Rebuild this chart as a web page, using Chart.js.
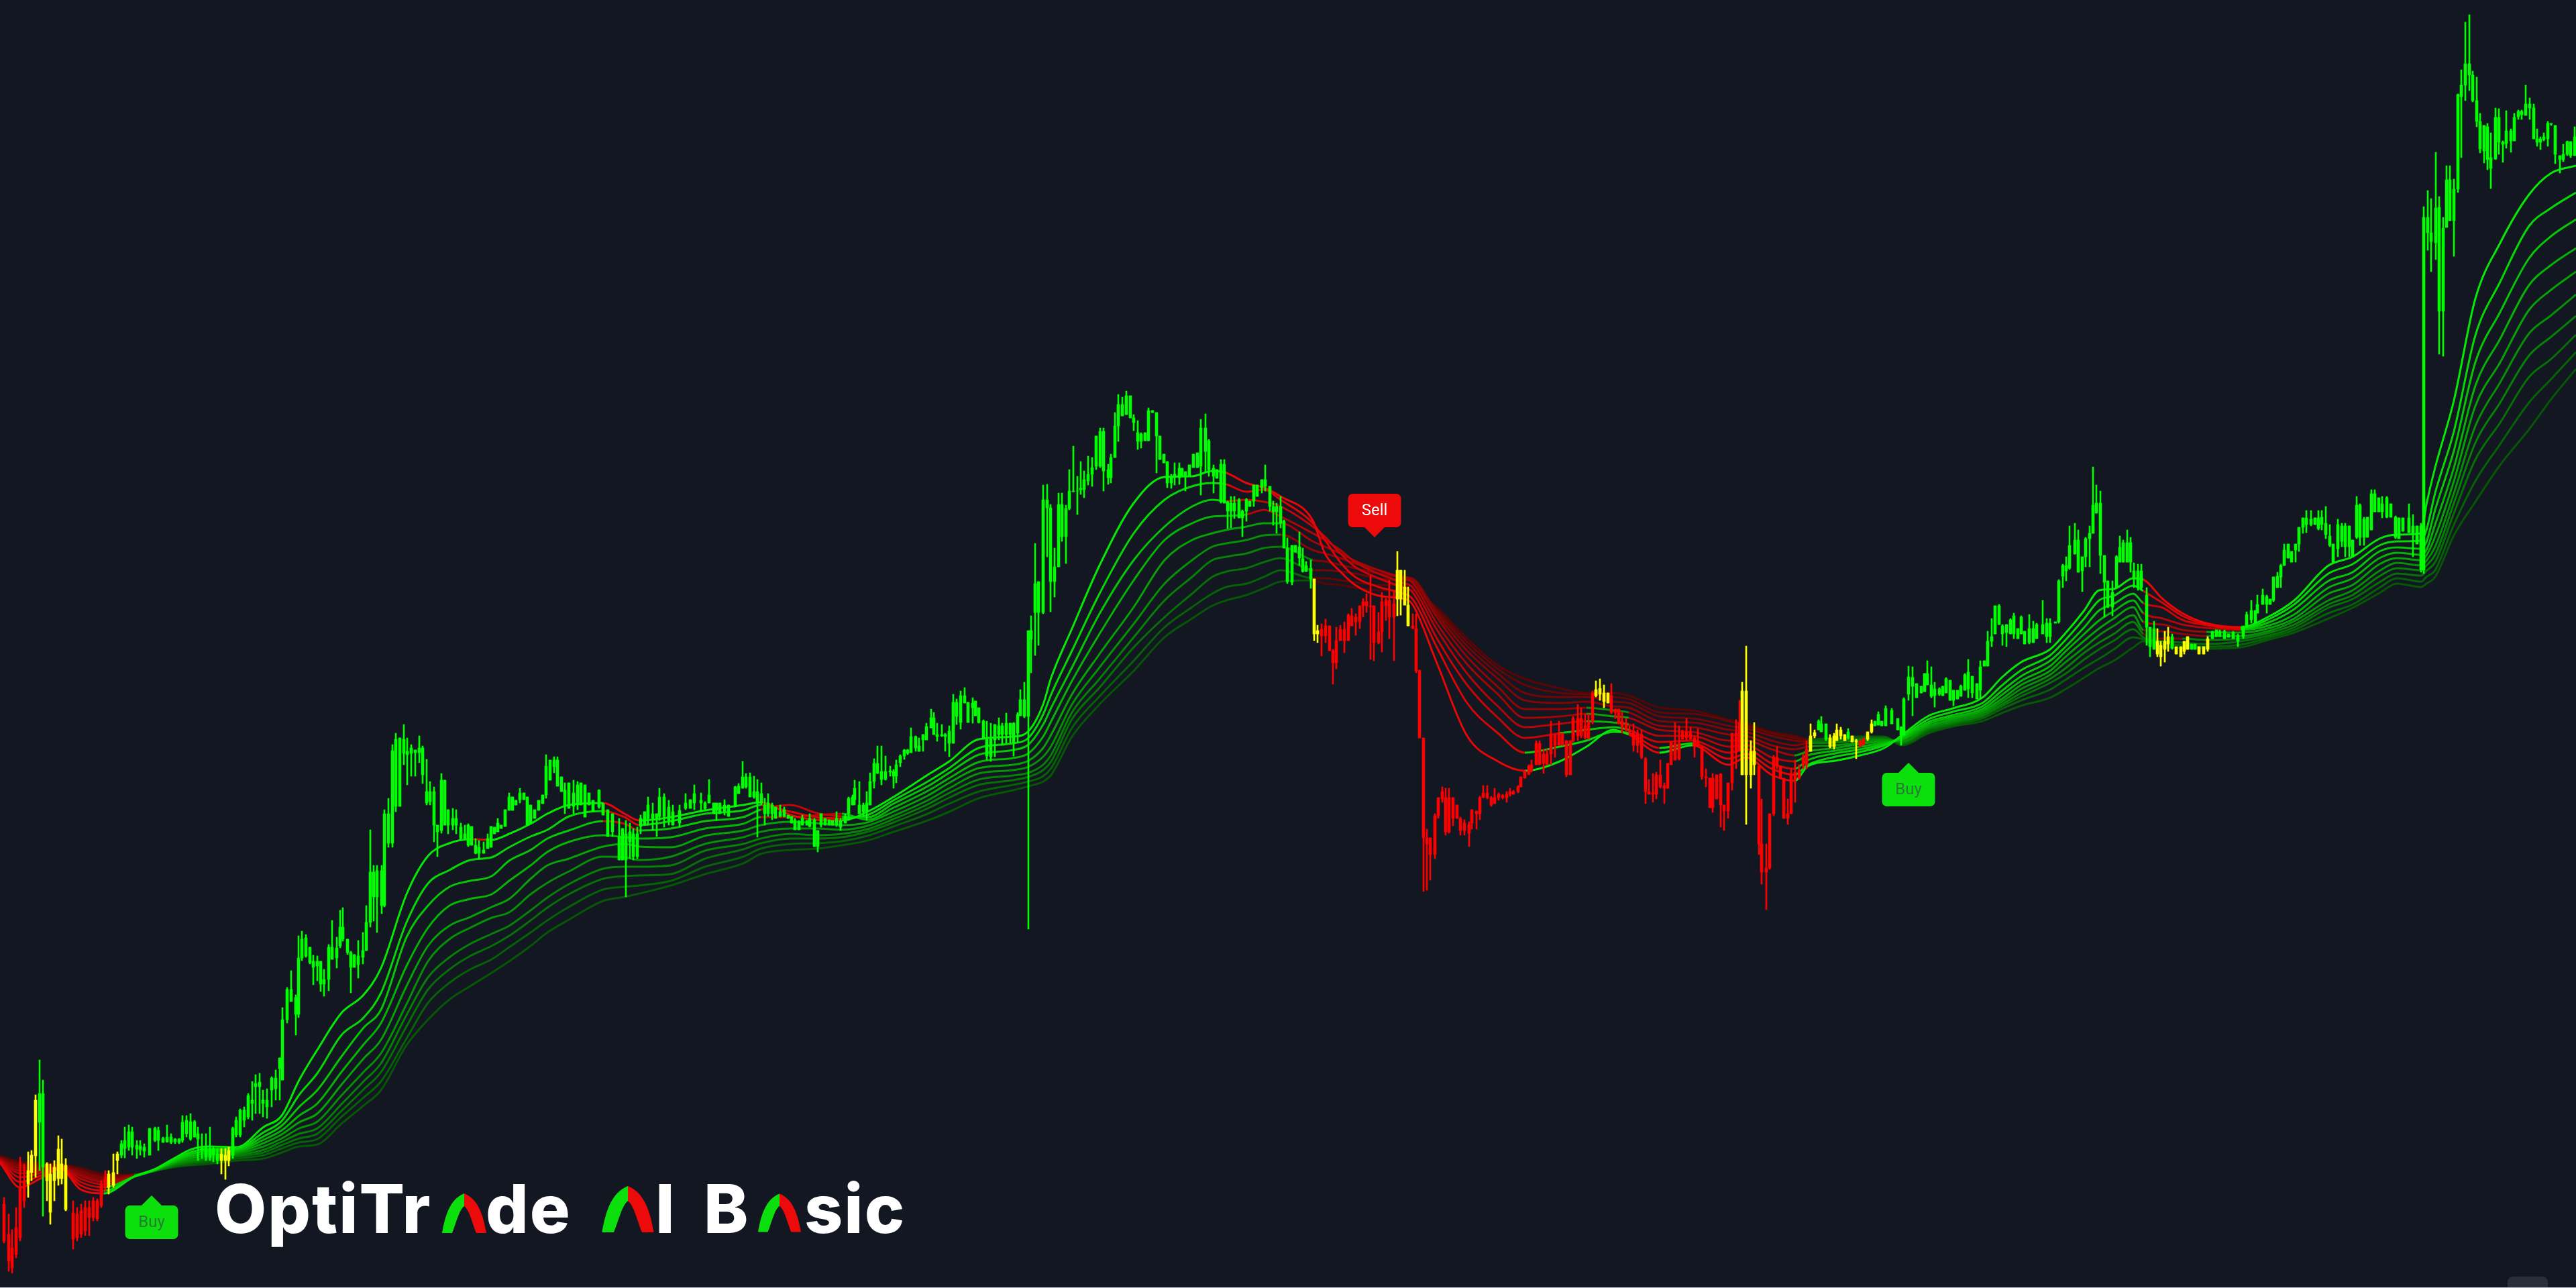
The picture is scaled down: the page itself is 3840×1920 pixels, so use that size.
<!DOCTYPE html>
<html>
<head>
<meta charset="utf-8">
<title>OptiTrade AI Basic</title>
<script src="https://cdn.jsdelivr.net/npm/chart.js@4/dist/chart.umd.min.js"></script>
<style>
  html, body { margin: 0; padding: 0; background: #121722; overflow: hidden; }
  #wrap { position: relative; width: 3840px; height: 1920px; }
  #chart { position: absolute; left: 0; top: 0; }
  .logo { position: absolute; top: 1752px; font: 800 100px/100px Inter, sans-serif; color: #fff; letter-spacing: 2px; white-space: pre; }
  .ghost { color: transparent; }
  .arch { position: absolute; }
  #edge { position: absolute; left: 0; right: 0; bottom: 0; height: 1px; background: #c4c6cb; }
  #corner { position: absolute; left: 3738px; top: 1903px; width: 60px; height: 17px; background: #2a2e39; border-radius: 8px 8px 0 0; }
</style>
</head>
<body>
<div id="wrap">
  <canvas id="chart" width="3840" height="1920"></canvas>
  <div id="brand"><span class="logo" style="left:320px">OptiTr</span><span class="logo ghost" style="left:665px;font-size:80px;top:1770px">a</span><span class="logo" style="left:724px">de</span> <span class="logo ghost" style="left:905px">A</span><span class="logo" style="left:977px">I</span> <span class="logo" style="left:1049px">B</span><span class="logo ghost" style="left:1135px;font-size:80px;top:1770px">a</span><span class="logo" style="left:1199px">sic</span></div>
  <svg class="arch" style="left:659px;top:1779px" width="66" height="59" viewBox="0 0 66 59"><path fill="#0ce00c" d="M0 59C5 30 13 8 33 0L33 19C25 25 21 45 15 59Z"/><path fill="#ec0a0a" d="M66 59C61 30 53 8 33 0L33 19C41 25 45 45 51 59Z"/></svg>
  <svg class="arch" style="left:897px;top:1768px" width="78" height="69" viewBox="0 0 66 59"><path fill="#0ce00c" d="M0 59C5 30 13 8 33 0L33 19C25 25 21 45 15 59Z"/><path fill="#ec0a0a" d="M66 59C61 30 53 8 33 0L33 19C41 25 45 45 51 59Z"/></svg>
  <svg class="arch" style="left:1130px;top:1779px" width="64" height="58" viewBox="0 0 66 59"><path fill="#0ce00c" d="M0 59C5 30 13 8 33 0L33 19C25 25 21 45 15 59Z"/><path fill="#ec0a0a" d="M66 59C61 30 53 8 33 0L33 19C41 25 45 45 51 59Z"/></svg>
  <div id="corner"></div>
  <div id="edge"></div>
</div>
<script>
// candles: time, high, body top, body bottom, low
const barsFirstRally = [
[6,135,125,70,67],[13,110,80,40,25],[18,87,60,30,22],[24,120,90,50,45],[30,195,150,75,70],[36,185,160,130,120],[42,203,175,155,135],[47,205,198,172,160],[53,288,280,197,165],[59,340,290,247,175],[64,310,290,180,107],[70,187,185,160,130],[75,185,170,113,95],[81,190,180,160,130],[87,227,207,163,153],[92,222,185,163,155],[98,193,183,117,115],[109,130,112,73,58],[115,120,110,75,70],[121,125,115,80,75],[127,130,120,85,78],[133,130,120,105,78],[139,135,130,105,100],[145,133,130,103,100],[151,160,155,123,120],[157,175,165,150,145],[162,175,170,150,140],[169,200,172,153,150],[175,203,200,190,170],[181,220,215,198,194],[186,240,220,208,194],[192,243,233,210,205],[197,240,233,210,198],[204,220,213,207,193],[209,220,212,206,198],[215,215,210,204,195],[223,238,238,198,198],[231,240,238,220,218],[236,240,235,220,205],[243,225,223,217,217],[249,243,225,218,217],[255,230,225,217,215],[261,223,222,218,215],[267,223,222,217,215],[272,257,247,220,217],[278,257,250,230,225],[284,260,248,222,220],[290,250,248,225,225],[295,240,230,222,190],[301,230,210,205,193],[307,230,210,195,190],[313,240,208,195,190],[318,210,208,198,188],[324,208,200,190,185],[330,208,200,190,170],[336,208,198,190,162],[341,210,205,190,182],[347,240,238,198,193],[352,255,250,228,225],[358,267,265,228,225],[364,270,265,250,240],[370,290,287,255,252],[376,308,280,275,250],[381,318,305,300,260],[387,320,307,300,260],[392,295,280,275,255],[398,297,280,270,253],[405,315,313,295,270],[411,325,313,297,280],[417,343,343,327,280],[421,418,400,310,310],[428,448,445,400,395],[434,473,445,427,427],[441,437,433,408,377],[445,525,492,408,403],[450,532,520,492,488],[456,527,522,495,493],[462,508,508,485,483],[467,496,487,478,452],[473,495,487,480,458],[478,487,487,453,442],[483,475,460,453,435],[490,512,508,460,443],[495,548,508,490,490],[502,523,507,492,477],[507,563,538,510,507],[511,567,538,520,517],[518,520,520,500,497],[523,502,500,478,440],[528,497,497,478,478],[534,518,495,482,462],[541,530,503,493,483],[546,570,545,503,503],[552,683,620,545,538],[557,630,620,583,547],[562,630,622,583,530],[569,630,622,570,558],[573,713,707,570,568],[579,730,707,663,657],[585,810,801,663,657],[590,827,818,718,710],[596,820,820,718,718]];
const barsFirstTop = [
[602,840,818,797,780],[607,820,800,795,750],[613,810,805,797,763],[619,802,802,798,763],[625,823,805,798,783],[630,808,805,765,752],[636,788,740,723,720],[641,755,740,725,720],[647,747,740,690,665],[652,690,690,680,643],[658,767,757,682,678],[663,757,757,690,690],[668,713,713,690,677],[675,715,700,690,683],[680,713,700,690,677],[687,693,687,670,667],[693,690,677,670,668],[698,692,690,660,658],[703,688,688,660,660],[709,670,660,648,647],[714,667,657,648,640],[721,665,653,648,648],[727,677,670,655,655],[732,688,688,657,657],[737,687,687,677,677],[742,700,693,680,680],[747,690,690,685,685],[753,713,713,688,688],[759,738,732,712,712],[764,732,732,712,712],[769,727,727,720,720],[775,745,738,728,723],[781,738,738,728,728],[786,732,732,690,690],[791,720,720,693,693],[797,713,713,700,700],[803,727,727,712,712],[809,735,735,722,722],[814,795,778,735,730],[820,787,787,757,757],[826,792,787,777,768],[831,792,787,748,748],[837,762,762,740,740],[842,753,742,718,707],[848,753,753,715,715],[855,757,738,718,707],[861,755,750,720,713],[866,753,753,720,720],[872,750,750,702,702],[878,738,738,720,720],[884,727,727,710,710],[893,743,742,717,715],[899,723,722,705,705],[906,713,713,673,673],[913,707,707,680,673],[923,700,673,638,638],[928,685,685,638,638],[933,697,677,638,583],[939,693,680,665,640],[944,685,677,643,638],[950,687,677,643,640],[955,705,700,688,677],[961,710,710,690,690],[966,732,720,700,690],[973,723,707,700,683],[979,707,707,700,673],[983,745,732,703,697],[990,737,732,703,687],[997,727,717,697,690]];
const barsSideways = [
[1003,720,710,690,690],[1013,720,712,693,687],[1022,737,723,715,713],[1029,728,728,715,715],[1035,750,737,723,713],[1045,738,727,723,710],[1051,725,723,715,712],[1057,758,735,723,723],[1064,723,723,707,707],[1068,723,723,712,697],[1073,723,723,707,707],[1080,728,720,710,705],[1086,720,720,703,703],[1096,748,747,718,717],[1101,752,748,737,737],[1107,785,762,745,745],[1112,767,762,747,745],[1118,768,762,732,732],[1124,763,740,732,730],[1129,758,740,723,672],[1135,753,737,723,720],[1140,730,720,707,690],[1145,737,723,707,703],[1151,723,720,707,698],[1156,717,717,700,700],[1163,720,710,703,702],[1169,717,713,703,702],[1175,705,705,700,700],[1180,703,703,693,693],[1185,700,697,683,683],[1191,697,695,683,683],[1196,705,700,690,690],[1203,697,697,690,690],[1207,707,700,688,687],[1214,700,698,658,658],[1219,682,682,658,650],[1224,707,707,690,687],[1230,700,700,690,690],[1236,698,698,690,690],[1241,697,697,690,690],[1247,710,700,690,688],[1253,700,697,687,682],[1260,707,703,693,693],[1265,732,730,707,697],[1271,735,732,720,720],[1274,757,745,728,720],[1281,755,720,707,707],[1287,723,720,710,703],[1292,740,723,710,697],[1297,768,755,720,720],[1303,789,782,755,745],[1308,808,782,767,767],[1314,808,770,758,750],[1320,793,770,758,757],[1327,778,771,769,763],[1332,773,770,763,745],[1336,787,780,763,753],[1342,795,793,783,777],[1348,803,802,793,788],[1353,803,802,797,795],[1358,835,822,798,798],[1365,823,822,805,800],[1370,820,808,800,800],[1376,825,825,817,800],[1381,842,837,817,817],[1388,863,850,835,835],[1392,858,850,825,825],[1397,842,825,822,815],[1404,840,825,823,822],[1409,827,825,822,800],[1415,838,830,812,792],[1421,885,873,812,812],[1426,878,873,852,840],[1432,890,883,843,833],[1438,895,883,872,872],[1443,873,873,843,843],[1450,880,872,865,842],[1454,875,875,853,853],[1459,865,865,843,842],[1466,847,845,818,818],[1471,845,818,793,787],[1477,842,818,792,785],[1483,840,840,817,792],[1489,850,838,825,817],[1494,842,838,825,810],[1500,857,842,825,812],[1506,842,842,825,812],[1511,843,842,813,793],[1517,858,855,827,813],[1521,892,877,853,853],[1527,903,877,852,850]];
const barsSecondRally = [
[1533,980,980,852,535],[1537,1002,980,967,917],[1543,1110,1050,1007,943],[1548,1053,1053,1007,958],[1555,1197,1175,1007,1005],[1561,1198,1175,1163,1090],[1566,1168,1163,1053,1008],[1572,1103,1075,1053,1030],[1578,1185,1168,1075,1075],[1583,1185,1168,1120,1113],[1589,1167,1162,1120,1080],[1594,1220,1188,1162,1160],[1600,1255,1188,1187,1187],[1606,1210,1188,1188,1153],[1611,1232,1192,1190,1183],[1616,1218,1205,1190,1178],[1622,1240,1213,1203,1197],[1628,1238,1223,1213,1195],[1634,1270,1270,1225,1220],[1640,1282,1277,1225,1223],[1645,1282,1277,1218,1188],[1652,1228,1220,1208,1198],[1656,1243,1238,1208,1200],[1662,1305,1285,1238,1238],[1667,1332,1317,1285,1262],[1673,1328,1317,1300,1300],[1679,1337,1330,1302,1302],[1685,1330,1330,1297,1297],[1690,1302,1297,1290,1278],[1696,1293,1275,1262,1250],[1701,1275,1273,1262,1252],[1707,1275,1275,1263,1263],[1712,1312,1308,1263,1263],[1718,1308,1308,1305,1305],[1724,1305,1305,1270,1215],[1729,1270,1270,1235,1235],[1735,1243,1243,1230,1230],[1740,1232,1232,1200,1193],[1746,1213,1208,1200,1192],[1751,1230,1213,1208,1197],[1758,1230,1222,1208,1198],[1762,1222,1222,1210,1210],[1767,1217,1217,1210,1188],[1773,1227,1227,1210,1210],[1779,1243,1243,1223,1223],[1785,1245,1245,1223,1223],[1790,1295,1282,1225,1182],[1797,1303,1282,1247,1217],[1802,1265,1263,1220,1210],[1809,1227,1222,1210,1185],[1814,1220,1220,1207,1207],[1820,1235,1228,1172,1170],[1825,1235,1228,1170,1170],[1830,1173,1172,1158,1132],[1835,1180,1170,1158,1133],[1840,1180,1170,1158,1147],[1847,1177,1175,1148,1148],[1852,1160,1158,1148,1120],[1858,1177,1175,1158,1143],[1863,1173,1173,1165,1165],[1869,1197,1197,1173,1165],[1874,1197,1197,1180,1180],[1881,1205,1205,1193,1185],[1886,1227,1205,1195,1188],[1893,1195,1195,1165,1158],[1898,1173,1165,1157,1137],[1903,1170,1165,1157,1125],[1909,1180,1165,1140,1133],[1914,1145,1143,1103,1103],[1919,1118,1103,1053,1050],[1926,1107,1107,1052,1048],[1931,1107,1107,1097,1097],[1937,1127,1105,1088,1077],[1942,1103,1087,1068,1067],[1947,1083,1077,1068,1068],[1954,1085,1073,1057,1043],[1959,1057,1057,975,965],[1964,988,980,975,962]];
const barsSellOff = [
[1970,990,982,972,942],[1976,997,987,972,962],[1982,987,987,950,950],[1987,952,950,932,900],[1992,985,965,932,923],[1998,988,982,965,965],[2004,993,982,965,947],[2010,1005,1003,965,965],[2015,1013,1002,987,987],[2021,1005,1000,993,973],[2027,1017,1017,993,983],[2032,1028,1023,1017,1000],[2037,1035,1023,1017,1007],[2043,1062,1017,1015,937],[2048,1017,1017,962,935],[2055,1007,978,962,960],[2060,1037,1023,978,948],[2066,1028,1025,1017,995],[2071,1055,1025,1000,968],[2078,1040,1020,1000,935],[2083,1098,1070,1027,1002],[2088,1070,1070,1027,1003],[2094,1070,1045,1018,1018],[2099,1045,1018,987,987],[2106,1005,987,983,983],[2111,1005,983,920,917],[2116,921,921,820,820],[2122,820,820,671,591],[2127,684,671,662,593],[2132,671,671,646,608],[2139,707,704,646,640],[2144,731,731,704,700],[2150,747,740,729,724],[2155,745,731,680,675],[2160,745,731,680,678],[2166,731,731,700,689],[2172,720,720,700,700],[2177,702,700,682,675],[2183,698,693,682,675],[2190,695,691,678,658],[2194,713,713,693,684],[2201,711,711,707,684],[2206,733,731,707,698],[2211,749,738,731,731],[2217,749,738,731,729],[2223,733,731,720,718],[2228,745,731,722,722],[2234,738,736,731,727],[2240,736,734,731,729],[2246,740,736,731,724],[2251,745,740,736,733],[2256,742,740,736,736],[2263,749,747,740,738],[2267,762,762,747,747],[2273,771,771,760,760],[2279,780,778,766,765],[2283,787,780,771,769],[2290,816,812,780,780],[2295,816,812,780,780],[2301,803,796,782,767],[2306,803,796,780,780],[2312,845,825,796,780],[2318,825,825,809,791],[2324,845,827,809,809],[2329,827,827,809,809],[2335,816,816,765,762],[2341,816,816,765,765],[2345,852,849,816,814],[2352,870,849,823,816],[2357,865,849,823,820],[2363,856,838,820,818],[2368,856,843,820,818],[2374,890,887,845,841],[2379,905,892,883,881],[2385,908,894,885,876],[2391,899,887,874,865],[2397,887,887,872,872],[2402,901,883,858,856],[2408,863,863,858,849],[2413,863,863,841,841],[2418,858,845,836,827],[2424,849,843,832,829],[2429,838,832,829,825],[2435,841,829,809,800],[2441,832,827,809,798],[2447,832,825,791,789]];
const barsChop = [
[2453,791,789,740,722],[2458,758,740,736,736],[2464,767,738,736,724],[2469,769,765,736,729],[2475,787,765,747,745],[2481,753,749,745,722],[2486,782,782,745,745],[2491,814,814,780,780],[2497,843,812,787,787],[2503,838,812,789,787],[2508,832,829,818,818],[2514,849,829,820,816],[2520,836,829,818,818],[2526,823,820,807,791],[2531,834,816,807,807],[2537,807,807,762,758],[2543,774,762,760,747],[2549,760,760,716,716],[2553,767,760,716,709],[2559,765,765,729,729],[2565,767,766,720,687],[2570,720,720,711,682],[2576,753,753,711,700],[2582,827,827,753,742],[2588,847,827,798,774],[2593,876,843,800,800],[2597,903,890,765,765],[2603,957,890,765,691],[2610,816,800,765,745],[2615,843,800,780,765],[2622,778,778,662,646],[2626,729,662,620,602],[2633,662,626,620,564],[2638,707,707,626,624],[2644,794,791,707,704],[2649,807,791,778,774],[2654,778,778,760,760],[2659,760,760,700,700],[2665,729,707,700,691],[2670,774,767,707,707],[2676,787,769,758,724],[2682,780,771,760,758],[2688,796,791,780,774],[2693,816,803,780,774],[2699,841,823,800,800],[2705,832,828,823,820],[2711,847,845,832,832],[2715,852,841,829,829],[2722,841,841,818,816],[2728,825,820,807,805],[2734,827,823,807,803],[2738,841,832,816,816],[2744,836,832,823,818],[2750,825,825,816,816],[2755,834,829,820,818],[2761,823,823,814,814],[2767,818,816,814,789],[2773,816,816,807,807],[2778,820,818,811,809],[2784,829,829,818,816],[2790,847,841,829,827],[2795,845,845,838,838]];
const barsThirdRally = [
[2800,859,855,839,839],[2805,845,845,838,838],[2811,868,864,838,838],[2820,864,861,841,841],[2829,849,849,832,832],[2834,837,836,824,809],[2838,880,878,824,824],[2845,927,911,885,876],[2851,926,910,897,853],[2857,901,901,880,880],[2864,897,897,887,887],[2869,916,916,889,889],[2873,935,916,899,899],[2879,926,899,882,880],[2884,903,893,883,866],[2891,895,893,885,883],[2896,897,897,883,883],[2901,910,908,887,887],[2907,906,906,876,876],[2912,891,891,876,868],[2918,891,891,878,878],[2923,899,897,882,882],[2929,916,914,891,891],[2934,937,918,893,880],[2940,912,912,887,880],[2947,901,901,878,878],[2952,935,926,891,878],[2958,935,935,927,927],[2963,979,964,927,927],[2969,998,971,964,956],[2974,1017,1017,975,975],[2980,1019,1017,989,989],[2985,989,987,975,958],[2991,989,989,977,956],[2997,998,996,975,975],[3002,1006,1002,975,968],[3008,983,983,968,968],[3013,1002,1000,975,975],[3018,979,979,960,960],[3025,1004,983,962,960],[3031,994,983,962,962],[3036,991,989,968,968],[3045,1025,989,975,975],[3051,998,991,971,962],[3056,998,991,971,962],[3064,993,993,991,991],[3069,1056,1054,993,991],[3075,1079,1077,1061,1044],[3080,1090,1077,1069,1054],[3085,1136,1107,1073,1071],[3093,1140,1115,1094,1094],[3098,1130,1115,1067,1067],[3104,1090,1090,1069,1038],[3109,1119,1117,1090,1075],[3115,1136,1125,1117,1075],[3120,1224,1167,1125,1125],[3125,1197,1170,1155,1155],[3131,1188,1170,1092,1065],[3137,1092,1092,1052,1000],[3142,1054,1054,1015,1014],[3149,1054,1037,1015,1002],[3155,1092,1090,1044,1044],[3160,1121,1104,1082,1082],[3165,1115,1111,1082,1082],[3171,1130,1111,1082,1082],[3176,1119,1111,1082,1067],[3181,1081,1069,1058,1044],[3187,1079,1069,1044,1040],[3192,1079,1069,1044,1040],[3200,1044,1033,985,958],[3205,985,985,956,941],[3211,994,983,952,952],[3216,983,964,945,941],[3221,964,958,941,927],[3227,979,964,952,933],[3232,985,971,960,949],[3238,975,971,954,952],[3244,956,956,945,945],[3251,956,956,941,941],[3256,964,964,949,945],[3261,971,971,952,952],[3267,960,960,952,952],[3272,960,960,952,952],[3278,956,956,945,945],[3285,956,956,945,945],[3291,971,968,952,949]];
const barsFinal = [
[3298,979,979,968,968],[3304,981,981,971,971],[3309,981,979,971,971],[3316,981,979,968,968],[3322,975,975,970,970],[3329,979,977,968,968],[3336,975,973,964,956],[3344,987,985,971,968],[3349,1008,1004,985,985],[3356,1025,1010,996,991],[3362,1010,1010,991,991],[3365,1033,1019,1006,1006],[3373,1042,1033,1019,1019],[3379,1033,1031,1019,1006],[3384,1027,1027,1019,1019],[3389,1060,1060,1025,1023],[3395,1067,1061,1044,1044],[3400,1079,1077,1060,1044],[3405,1109,1100,1077,1077],[3411,1109,1109,1088,1088],[3416,1098,1098,1082,1082],[3422,1109,1109,1100,1082],[3427,1134,1134,1109,1098],[3433,1148,1148,1134,1125],[3438,1159,1148,1138,1126],[3445,1159,1146,1138,1136],[3451,1148,1148,1138,1138],[3456,1159,1148,1132,1130],[3461,1159,1149,1138,1130],[3467,1165,1140,1123,1117],[3473,1138,1121,1107,1105],[3478,1109,1109,1082,1081],[3485,1146,1138,1102,1090],[3491,1140,1136,1113,1105],[3496,1140,1136,1105,1090],[3502,1136,1136,1105,1090],[3507,1115,1115,1090,1090],[3513,1180,1167,1119,1117],[3518,1169,1167,1119,1107],[3524,1149,1146,1119,1107],[3529,1149,1149,1119,1119],[3535,1190,1184,1130,1130],[3540,1190,1184,1157,1157],[3546,1178,1178,1157,1157],[3551,1180,1169,1157,1148],[3558,1180,1178,1149,1148],[3564,1169,1169,1149,1149],[3571,1151,1149,1119,1117],[3576,1148,1148,1117,1117],[3582,1148,1148,1128,1128],[3591,1169,1148,1126,1126],[3597,1153,1136,1125,1090],[3603,1136,1136,1109,1109],[3609,1140,1136,1071,1067],[3613,1612,1596,1070,1065],[3619,1636,1596,1573,1547],[3624,1624,1573,1560,1515],[3631,1693,1610,1558,1533],[3636,1627,1611,1456,1392],[3642,1596,1580,1456,1389],[3647,1673,1652,1581,1581],[3652,1673,1652,1591,1591],[3658,1653,1638,1591,1538],[3664,1780,1779,1638,1633],[3669,1816,1793,1776,1685],[3675,1887,1825,1793,1770],[3681,1898,1825,1808,1785],[3686,1814,1808,1770,1768],[3692,1805,1770,1739,1731],[3697,1751,1739,1698,1692],[3703,1733,1733,1695,1677],[3708,1736,1731,1682,1667],[3713,1722,1685,1669,1639],[3720,1759,1745,1683,1682],[3725,1758,1745,1708,1690],[3731,1710,1708,1705,1678],[3736,1755,1725,1706,1699],[3743,1728,1725,1710,1693],[3748,1751,1745,1710,1710],[3754,1756,1754,1746,1742],[3759,1756,1754,1749,1742],[3765,1793,1765,1748,1748],[3771,1774,1765,1759,1742],[3777,1765,1759,1713,1713],[3782,1728,1713,1708,1702],[3787,1716,1713,1708,1697],[3792,1722,1716,1712,1710],[3798,1739,1736,1713,1702],[3803,1736,1736,1735,1733],[3809,1733,1733,1690,1676],[3816,1688,1688,1682,1662],[3821,1705,1690,1682,1679],[3827,1710,1709,1690,1688],[3832,1709,1709,1688,1685],[3838,1731,1716,1688,1688]];

// state of the candle up to a given time
const candleRuns = [[40,'down'],[56,'flat'],[66,'up'],[100,'flat'],[158,'down'],[180,'flat'],[328,'up'],[345,'flat'],[1955,'up'],[1966,'flat'],[2080,'down'],[2101,'flat'],[2376,'down'],[2398,'flat'],[2595,'down'],[2617,'flat'],[2695,'down'],[2707,'flat'],[2724,'up'],[2750,'flat'],[2758,'up'],[2770,'flat'],[2780,'down'],[2792,'flat'],[3214,'up'],[3235,'flat'],[3240,'up'],[3265,'flat'],[3275,'up'],[3295,'flat'],[3840,'up']];

// moving average ribbon: time, then the ten averages from fastest to slowest
const ribbonBase = [
[0,187,188,190,191,192,193,194,195,196,197],[30,150,158,165,171,175,179,182,184,186,188],[60,163,167,171,174,177,179,181,183,184,186],[90,178,178,179,179,180,181,182,183,183,184],[120,147,153,158,163,167,170,173,175,177,179],[155,141,145,150,154,158,161,164,166,168,170],[200,166,166,166,166,167,167,168,168,169,169],[232,178,177,177,176,176,176,175,175,175,175],[259,193,191,189,188,186,185,183,182,181,180],[286,207,203,200,197,194,191,189,187,185,183],[312,211,207,204,201,198,195,193,191,188,185],[353,210,208,206,204,202,200,198,196,193,190],[393,240,232,226,221,216,211,206,202,198,193],[420,257,249,242,235,229,223,218,213,208,202]];
const ribbonRise = [
[446,310,288,270,257,247,238,230,223,217,211],[473,355,320,295,275,260,248,238,230,222,214],[509,410,377,345,322,303,287,274,264,255,245],[542,437,403,388,363,342,322,308,296,284,272],[568,477,440,415,395,370,350,335,322,308,295],[606,587,545,523,480,450,423,407,390,372,362],[638,644,603,570,537,510,487,463,445,425,400],[670,663,623,598,570,540,520,493,475,455,430],[701,669,638,607,580,553,537,513,495,475,450],[733,668,642,614,587,568,552,528,510,490,470],[759,677,657,637,607,580,560,540,525,508,487],[791,692,673,653,630,610,587,563,548,530,510],[816,707,683,670,650,630,604,582,567,548,530],[848,720,703,682,665,640,621,602,587,568,549],[899,723,711,696,675,658,643,625,610,594,577],[931,707,702,692,672,662,642,628,614,598,583],[953,697,690,682,670,658,638,628,615,600,588],[1000,702,696,685,672,657,643,630,617,607,600]];
const ribbonDrift = [
[1051,712,707,696,685,674,662,652,640,628,617],[1108,720,712,702,692,682,672,662,654,643,633],[1134,724,720,713,702,690,680,670,663,655,647],[1179,705,710,720,702,695,685,677,670,662,653],[1217,698,702,708,705,693,685,675,670,663,655],[1255,697,700,703,707,690,683,677,672,666,660],[1293,710,705,702,698,694,689,684,680,674,667],[1332,732,727,722,716,710,704,699,694,688,680],[1383,765,755,748,741,734,727,721,715,707,697],[1415,785,775,768,760,753,745,738,731,722,710],[1459,818,805,795,784,775,767,758,750,740,730],[1510,822,812,802,790,780,772,764,757,750,742],[1533,830,820,810,797,786,777,768,762,755,748]];
const ribbonPeak = [
[1555,870,855,840,822,805,792,780,772,763,755],[1567,910,885,865,845,825,808,795,785,775,765],[1598,983,950,925,905,885,870,858,848,835,822],[1639,1077,1035,1005,975,945,925,908,895,882,870],[1690,1170,1125,1085,1055,1015,990,970,955,935,920],[1736,1209,1175,1135,1115,1085,1050,1025,1000,985,970],[1777,1210,1195,1165,1140,1115,1085,1060,1035,1015,998],[1807,1218,1200,1175,1150,1125,1105,1085,1060,1035,1017],[1828,1215,1198,1173,1151,1130,1110,1090,1068,1045,1025],[1858,1200,1187,1175,1153,1135,1115,1095,1073,1050,1033],[1884,1193,1190,1172,1160,1140,1122,1103,1082,1060,1043],[1909,1180,1175,1165,1150,1140,1123,1105,1088,1070,1053],[1957,1144,1140,1135,1125,1113,1100,1085,1070,1058,1055],[1975,1095,1115,1120,1115,1105,1095,1083,1070,1058,1050],[1998,1068,1082,1095,1100,1095,1088,1078,1068,1055,1048],[2020,1048,1060,1075,1082,1084,1080,1073,1065,1052,1044],[2055,1032,1045,1058,1065,1070,1070,1065,1058,1048,1040],[2089,1028,1036,1045,1052,1058,1060,1060,1055,1048,1040],[2105,1020,1028,1038,1045,1052,1056,1058,1054,1047,1040]];
const ribbonTrough = [
[2141,934,957,970,983,992,1001,1006,1010,1012,1015],[2187,823,872,899,916,930,941,950,957,963,968],[2233,785,827,850,867,885,896,908,916,923,928],[2273,771,798,820,836,850,863,876,887,899,908],[2325,785,807,827,841,852,863,872,881,887,894],[2365,807,816,832,845,856,865,874,881,885,887],[2405,832,829,836,843,852,861,867,874,881,887],[2428,825,827,832,840,850,858,865,872,878,883],[2474,798,805,814,823,832,838,845,852,858,865],[2523,809,812,816,823,829,836,843,849,856,861],[2577,780,789,798,807,816,825,832,838,845,847],[2603,791,796,803,809,816,823,829,834,838,841],[2641,765,774,782,791,803,809,816,823,827,829],[2675,756,765,774,785,794,803,809,816,820,823],[2695,778,780,787,794,800,807,812,814,816,818]];
const ribbonLift = [
[2736,786,792,797,801,805,809,813,815,818,820],[2773,794,799,803,807,811,813,817,818,820,822],[2809,805,809,811,813,815,817,818,820,821,822],[2835,824,822,820,818,817,815,814,812,811,809],[2875,853,848,844,841,838,836,834,832,829,827],[2911,864,859,854,851,848,845,843,841,839,837],[2955,880,872,867,863,860,857,854,852,849,845],[2984,910,898,890,884,878,874,870,867,863,857],[3013,933,921,912,905,899,893,887,882,876,868],[3056,952,943,935,927,920,914,908,902,892,880],[3078,975,965,955,948,940,932,923,915,906,892],[3107,1010,998,985,975,965,955,947,937,925,910],[3129,1040,1025,1010,995,983,973,962,952,938,924],[3151,1042,1032,1020,1009,998,987,975,965,952,935],[3180,1058,1047,1035,1025,1015,1003,993,982,970,955],[3195,1056,1039,1021,1006,993,981,975,970,967,964],[3224,1027,1021,1014,998,989,979,968,964,960,956],[3253,1006,1002,996,989,981,975,968,962,958,954],[3289,991,989,988,984,978,972,966,960,956,953],[3340,985,983,982,981,977,972,968,964,959,955]];
const ribbonBreakout = [
[3384,1002,998,993,988,984,980,977,973,970,967],[3420,1025,1019,1012,1004,998,994,989,985,981,977],[3471,1077,1065,1054,1044,1035,1025,1019,1014,1006,998],[3507,1090,1079,1067,1058,1048,1040,1033,1027,1019,1014],[3547,1117,1107,1098,1088,1079,1069,1061,1052,1044,1036],[3573,1123,1113,1104,1096,1088,1081,1073,1065,1058,1050],[3609,1125,1114,1102,1093,1085,1077,1070,1062,1053,1045],[3617,1168,1130,1112,1100,1092,1084,1077,1069,1060,1050],[3630,1223,1185,1160,1138,1120,1105,1093,1082,1070,1060],[3658,1323,1277,1248,1223,1203,1185,1170,1155,1138,1122],[3690,1475,1420,1380,1345,1315,1285,1260,1235,1203,1172],[3727,1558,1500,1455,1415,1380,1350,1320,1290,1258,1227],[3770,1630,1583,1535,1495,1458,1423,1390,1358,1320,1280],[3803,1662,1610,1568,1525,1488,1450,1418,1385,1355,1325],[3840,1673,1633,1593,1550,1515,1481,1449,1421,1395,1370]];

// times where each average changes trend, it starts in a downtrend
const ribbonFlips = [
  [170,707,725,899,950,1150,1255,1828,2279,2434,2486,2540,2669,3197,3347],
  [172,899,950,1150,1255,1830,2285,2434,2486,2540,2672,3197,3347],
  [175,903,953,1150,1255,1833,2342,2434,2672,3197,3347],
  [178,1150,1255,1861,2348,2434,2678,3197,3347],
  [180,1917,2368,2440,2682,3197,3304],
  [183,1917,2380,2440,2688,3197,3290],
  [186,1942,2692,3197,3260],
  [190,1945,2696],
  [194,1955,2700],
  [198,1960,2705]
];

const signalLabels = ['Buy', 'Sell', 'Buy'];
const signalTimes = [226, 2049, 2845];
const signalPrices = [138, 1119, 783];

const candleColors = { up: '#00ff00', down: '#ff0000', flat: '#ffff00' };
const greenShades = ['#06e806','#06d806','#06c606','#06b406','#06a206','#069006','#068006','#067006','#066206','#065606'];
const redShades = ['#e80606','#d80606','#c60606','#b40606','#a20606','#900606','#800606','#700606','#620606','#560606'];

const allBars = [].concat(barsFirstRally, barsFirstTop, barsSideways, barsSecondRally, barsSellOff, barsChop, barsThirdRally, barsFinal);
const allRibbon = [].concat(ribbonBase, ribbonRise, ribbonDrift, ribbonPeak, ribbonTrough, ribbonLift, ribbonBreakout);

function candleColor(time){
  for (const run of candleRuns){
    if (time <= run[0]) return candleColors[run[1]];
  }
  return candleColors.up;
}

function ribbonDataset(k){
  return {
    type: 'line',
    order: 5,
    data: allRibbon.map(row => ({ x: row[0], y: row[k + 1] })),
    borderColor: greenShades[k],
    borderWidth: 3,
    pointRadius: 0,
    cubicInterpolationMode: 'monotone',
    segment: {
      borderColor: ctx => {
        const mid = (ctx.p0.parsed.x + ctx.p1.parsed.x) / 2;
        const count = ribbonFlips[k].filter(t => t <= mid).length;
        return count % 2 === 1 ? greenShades[k] : redShades[k];
      }
    }
  };
}

const wicks = {
  order: 2,
  grouped: false,
  barThickness: 2,
  data: allBars.map(b => ({ x: b[0], y: [b[4], b[1]] })),
  backgroundColor: allBars.map(b => candleColor(b[0]))
};
const bodies = {
  order: 1,
  grouped: false,
  barThickness: 4,
  data: allBars.map(b => ({ x: b[0], y: [b[3], b[2]] })),
  backgroundColor: allBars.map(b => candleColor(b[0]))
};

// Buy and Sell tags hang off the scales
const signalTags = {
  id: 'signalTags',
  afterDatasetsDraw(chart){
    const c = chart.ctx;
    const xs = chart.scales.x, ys = chart.scales.y;
    signalLabels.forEach((label, i) => {
      const x = xs.getPixelForValue(signalTimes[i]);
      const y = ys.getPixelForValue(signalPrices[i]);
      const buy = label === 'Buy';
      const dir = buy ? 1 : -1;
      const w = 79, h = 50, tip = 15;
      const boxTop = buy ? y + tip : y - tip - h;
      c.save();
      c.fillStyle = buy ? '#0ce00c' : '#ec0a0a';
      c.beginPath();
      c.moveTo(x, y);
      c.lineTo(x + 16, y + dir * (tip + 1));
      c.lineTo(x - 16, y + dir * (tip + 1));
      c.closePath();
      c.fill();
      c.beginPath();
      c.roundRect(x - w / 2, boxTop, w, h, 7);
      c.fill();
      c.fillStyle = buy ? '#2a7a34' : '#ffffff';
      c.font = '24px Roboto, sans-serif';
      c.textAlign = 'center';
      c.textBaseline = 'middle';
      c.fillText(label, x, boxTop + h / 2 + 1);
      c.restore();
    });
  }
};

new Chart(document.getElementById('chart').getContext('2d'), {
  type: 'bar',
  data: { datasets: [wicks, bodies].concat(ribbonFlips.map((f, k) => ribbonDataset(k))) },
  options: {
    responsive: false,
    animation: false,
    devicePixelRatio: 1,
    layout: { padding: 0 },
    plugins: { legend: { display: false }, tooltip: { enabled: false } },
    scales: {
      x: { type: 'linear', min: 0, max: 3840, offset: false, display: false },
      y: { min: 0, max: 1920, display: false }
    }
  },
  plugins: [signalTags]
});
</script>
</body>
</html>
